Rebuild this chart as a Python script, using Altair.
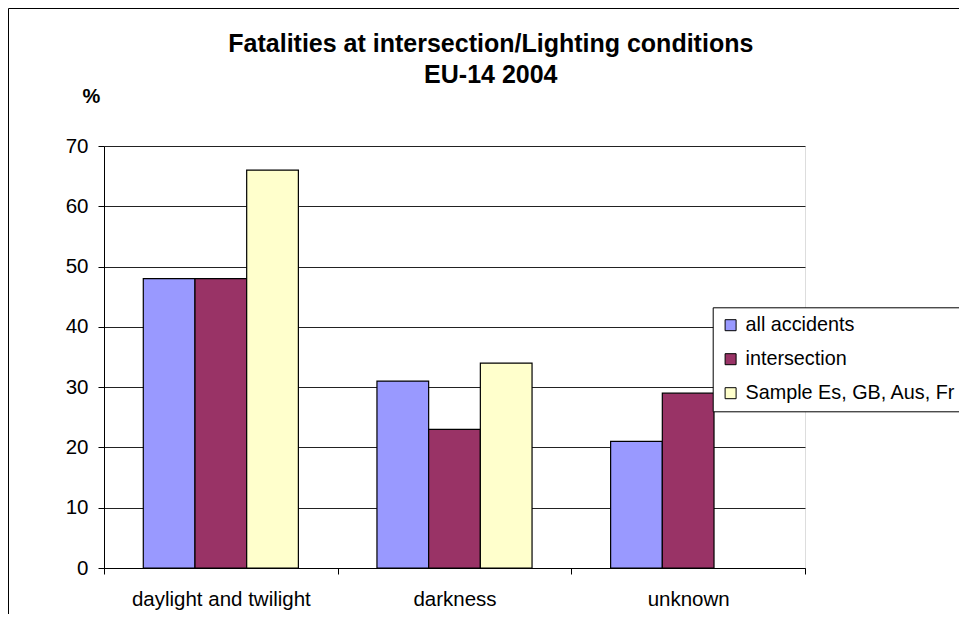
import altair as alt
import pandas as pd

categories = ["daylight and twilight", "darkness", "unknown"]
series_names = ["all accidents", "intersection", "Sample Es, GB, Aus, Fr"]
all_accidents = [48, 31, 21]
intersection = [48, 23, 29]
sample = [66, 34, None]
colors = ["#9999FF", "#993366", "#FFFFCC"]
y_ticks = [0, 10, 20, 30, 40, 50, 60, 70]
title_lines = ["Fatalities at intersection/Lighting conditions", "EU-14 2004"]

rows = []
for s, vals in zip(series_names, [all_accidents, intersection, sample]):
    for c, v in zip(categories, vals):
        if v is not None:
            rows.append({"condition": c, "series": s, "value": v})
df = pd.DataFrame(rows)

FONT = "Liberation Sans, Arial, sans-serif"

bars = alt.Chart(df).mark_bar(stroke="black", strokeWidth=1.2).encode(
    x=alt.X("condition:N", sort=categories,
            scale=alt.Scale(paddingInner=0, paddingOuter=0),
            axis=alt.Axis(title=None, labelAngle=0, tickBand="extent", grid=False,
                          domainColor="black", tickColor="black", tickSize=6,
                          labelPadding=15, labelFontSize=20.5, labelFont=FONT,
                          labelColor="black")),
    xOffset=alt.XOffset("series:N", sort=series_names,
                        scale=alt.Scale(paddingInner=0, paddingOuter=0.76)),
    y=alt.Y("value:Q", scale=alt.Scale(domain=[0, 70], nice=False),
            axis=alt.Axis(values=y_ticks, title="%", titleAngle=0, titleX=-13, titleY=-50,
                          titleAlign="center", titleBaseline="middle", titleFontSize=20,
                          titleFontWeight="bold", titleFont=FONT, titleColor="black",
                          domainColor="black", tickColor="black", tickSize=6,
                          labelPadding=10, labelFontSize=20.5, labelFont=FONT,
                          labelColor="black", gridColor="#222222", gridWidth=1)),
    color=alt.Color("series:N", sort=series_names,
                    scale=alt.Scale(domain=series_names, range=colors),
                    legend=alt.Legend(title=None, orient="none", legendX=608.7, legendY=161.3,
                                      strokeColor="black", fillColor="white", padding=8,
                                      rowPadding=13, symbolType="square", symbolSize=121,
                                      symbolStrokeColor="black", symbolStrokeWidth=1,
                                      labelFontSize=19.8, labelFont=FONT, labelColor="black",
                                      labelOffset=5, labelLimit=400)),
)

one = alt.Data(values=[{}])
border_top = alt.Chart(one).mark_rule(color="black", strokeWidth=1).encode(
    x=alt.value(-95.5), x2=alt.value(900), y=alt.value(-137.5))
border_left = alt.Chart(one).mark_rule(color="black", strokeWidth=1).encode(
    x=alt.value(-95.5), y=alt.value(-137.5), y2=alt.value(470))
title1 = alt.Chart(one).mark_text(font=FONT, fontSize=25, fontWeight="bold", color="black",
                                  align="center", baseline="alphabetic").encode(
    x=alt.value(386.8), y=alt.value(-93.8), text=alt.value(title_lines[0]))
title2 = alt.Chart(one).mark_text(font=FONT, fontSize=25, fontWeight="bold", color="black",
                                  align="center", baseline="alphabetic").encode(
    x=alt.value(386.8), y=alt.value(-63.2), text=alt.value(title_lines[1]))

chart = alt.layer(border_top, border_left, title1, title2, bars).properties(
    width=701, height=422,
    autosize=alt.AutoSizeParams(type="none"),
    padding={"left": 96, "top": 138, "right": 154, "bottom": 46},
).configure_view(stroke="#808080", strokeWidth=1).configure(background="white")

chart.save("out.html", embed_options={"renderer": "svg", "actions": False})
